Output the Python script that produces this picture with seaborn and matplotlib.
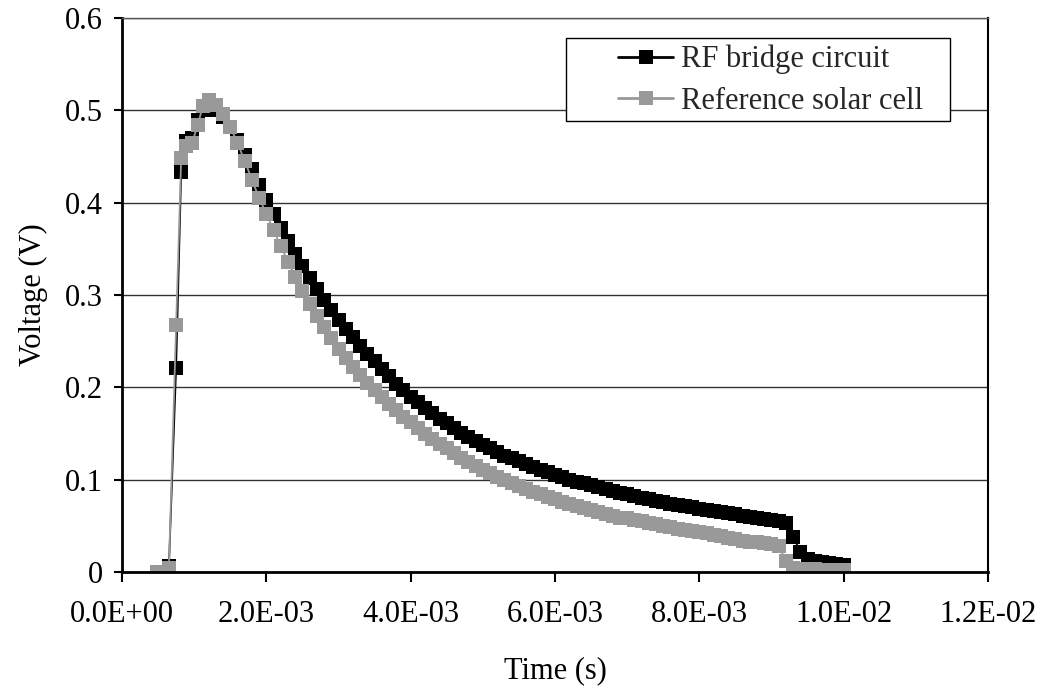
import matplotlib
matplotlib.use("Agg")
import matplotlib.pyplot as plt
import seaborn as sns
import pandas as pd
from matplotlib.ticker import FuncFormatter
from matplotlib.lines import Line2D
from matplotlib.patches import Rectangle

# ---------------- data ----------------
time_s = [
    0.00048, 0.00065, 0.00075, 0.00082, 0.00089, 0.00097, 0.00105, 0.00112,
    0.0012, 0.0013, 0.0014, 0.0015, 0.0016, 0.0017, 0.0018, 0.0019,
    0.0020, 0.0021, 0.0022, 0.0023, 0.0024, 0.0025, 0.0026, 0.0027, 0.0028, 0.0029,
    0.0030, 0.0031, 0.0032, 0.0033, 0.0034, 0.0035, 0.0036, 0.0037, 0.0038, 0.0039,
    0.0040, 0.0041, 0.0042, 0.0043, 0.0044, 0.0045, 0.0046, 0.0047, 0.0048, 0.0049,
    0.0050, 0.0051, 0.0052, 0.0053, 0.0054, 0.0055, 0.0056, 0.0057, 0.0058, 0.0059,
    0.0060, 0.0061, 0.0062, 0.0063, 0.0064, 0.0065, 0.0066, 0.0067, 0.0068, 0.0069,
    0.0070, 0.0071, 0.0072, 0.0073, 0.0074, 0.0075, 0.0076, 0.0077, 0.0078, 0.0079,
    0.0080, 0.0081, 0.0082, 0.0083, 0.0084, 0.0085, 0.0086, 0.0087, 0.0088, 0.0089,
    0.0090, 0.0091, 0.0092, 0.0093, 0.0094, 0.0095, 0.0096, 0.0097, 0.0098, 0.0099,
    0.0100,
]

rf_bridge_v = [
    0.000, 0.006, 0.221, 0.433, 0.467, 0.470, 0.490, 0.500,
    0.503, 0.500, 0.493, 0.482, 0.468, 0.452, 0.436, 0.419,
    0.403, 0.388, 0.373, 0.358, 0.344, 0.331, 0.318, 0.306, 0.295, 0.284,
    0.273, 0.263, 0.254, 0.245, 0.236, 0.228, 0.220, 0.212, 0.204, 0.197,
    0.190, 0.184, 0.178, 0.172, 0.166, 0.161, 0.156, 0.151, 0.146, 0.142,
    0.138, 0.134, 0.130, 0.126, 0.123, 0.120, 0.117, 0.114, 0.111, 0.108,
    0.105, 0.103, 0.100, 0.098, 0.096, 0.094, 0.092, 0.090, 0.088, 0.086,
    0.084, 0.082, 0.080, 0.079, 0.077, 0.076, 0.074, 0.073, 0.071, 0.070,
    0.068, 0.067, 0.066, 0.065, 0.064, 0.063, 0.061, 0.060, 0.059, 0.057,
    0.056, 0.055, 0.053, 0.038, 0.022, 0.014, 0.012, 0.011, 0.010, 0.009,
    0.008,
]

ref_cell_v = [
    0.000, 0.004, 0.268, 0.448, 0.461, 0.465, 0.484, 0.505,
    0.511, 0.506, 0.496, 0.482, 0.465, 0.445, 0.425, 0.405,
    0.388, 0.370, 0.353, 0.336, 0.320, 0.304, 0.290, 0.277, 0.265, 0.253,
    0.242, 0.232, 0.222, 0.213, 0.205, 0.197, 0.189, 0.182, 0.175, 0.168,
    0.162, 0.156, 0.150, 0.144, 0.139, 0.134, 0.129, 0.124, 0.119, 0.115,
    0.111, 0.107, 0.103, 0.100, 0.096, 0.093, 0.090, 0.087, 0.084, 0.081,
    0.079, 0.076, 0.074, 0.071, 0.069, 0.067, 0.065, 0.063, 0.061, 0.059,
    0.058, 0.056, 0.055, 0.053, 0.052, 0.050, 0.049, 0.047, 0.046, 0.044,
    0.043, 0.042, 0.040, 0.039, 0.037, 0.036, 0.034, 0.033, 0.032, 0.031,
    0.030, 0.028, 0.012, 0.004, 0.003, 0.003, 0.003, 0.002, 0.002, 0.002,
    0.002,
]

series_names = ["RF bridge circuit", "Reference solar cell"]
series_colors = ["#000000", "#999999"]
x_ticks = [0.0, 0.002, 0.004, 0.006, 0.008, 0.010, 0.012]
y_ticks = [0.0, 0.1, 0.2, 0.3, 0.4, 0.5, 0.6]

# ---------------- figure ----------------
sns.set_theme(style="white")
plt.rcParams["font.family"] = ["Liberation Serif", "DejaVu Serif"]

df = pd.DataFrame({
    "t": time_s + time_s,
    "v": rf_bridge_v + ref_cell_v,
    "series": [series_names[0]] * len(time_s) + [series_names[1]] * len(time_s),
})

fig = plt.figure(figsize=(10.47, 6.95), dpi=100)
ax = fig.add_axes([122 / 1047, 1 - 572 / 695, 866 / 1047, 554 / 695])

palette = dict(zip(series_names, series_colors))
sns.lineplot(data=df, x="t", y="v", hue="series", style="series",
             palette=palette, markers={n: "s" for n in series_names},
             dashes=False, estimator=None, sort=False,
             linewidth=1.3, legend=False, ax=ax)
for ln in ax.lines:
    ln.set_markersize(10)
    ln.set_markeredgewidth(0)
    ln.set_markerfacecolor(ln.get_color())

ax.set_xlim(0, 0.012)
ax.set_ylim(0, 0.6)
ax.set_xticks(x_ticks)
ax.set_yticks(y_ticks)
ax.xaxis.set_major_formatter(FuncFormatter(lambda v, p: f"{v:.1E}"))
ax.yaxis.set_major_formatter(FuncFormatter(lambda v, p: "0" if abs(v) < 1e-12 else f"{v:.1f}"))

ax.grid(axis="y", color="#333333", linewidth=1.0)
ax.grid(axis="x", visible=False)
ax.set_axisbelow(True)

for side in ["left", "bottom"]:
    ax.spines[side].set_color("black")
    ax.spines[side].set_linewidth(2.0)
ax.spines["right"].set_color("black")
ax.spines["right"].set_linewidth(1.5)
ax.spines["top"].set_color("#555555")
ax.spines["top"].set_linewidth(1.0)

ax.tick_params(axis="x", direction="out", length=7, width=1.5, colors="black",
               labelsize=22, pad=13, bottom=True)
ax.tick_params(axis="y", direction="out", length=6, width=1.5, colors="black",
               labelsize=22, pad=8, left=True)

ax.set_xlabel("Time (s)", fontsize=22, labelpad=20, color="black")
ax.set_ylabel("Voltage (V)", fontsize=22, labelpad=12, color="black")

# legend box
box = Rectangle(((566 - 122) / 866, (572 - 121) / 554),
                (950 - 566) / 866, (121 - 38) / 554,
                transform=ax.transAxes, facecolor="white", edgecolor="black",
                linewidth=1.0, zorder=5)
ax.add_patch(box)
handles = [Line2D([0], [0], color=c, marker="s", markersize=10,
                  markeredgewidth=0, linewidth=2.0) for c in series_colors]
leg = ax.legend(handles, series_names, loc="upper left",
                bbox_to_anchor=((618 - 122) / 866, (572 - 45) / 554),
                frameon=False, fontsize=22, borderpad=0, borderaxespad=0,
                handlelength=1.8, handletextpad=0.25, labelspacing=0.4)
leg.set_zorder(6)

fig.savefig("out.png", dpi=100)
